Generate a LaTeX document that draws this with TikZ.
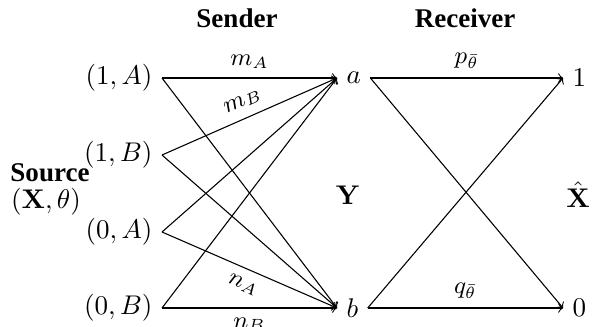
\documentclass[tikz,border=0pt]{standalone}
\usepackage[no-math]{fontspec}
\setmainfont{Liberation Serif}
\begin{document}
\begin{tikzpicture}[x=0.37pt,y=-0.37pt,
  src/.style={anchor=east},
  dst/.style={anchor=west},
  arr/.style={->},
  lab/.style={font=\small},
  head/.style={font=\bfseries}]
\useasboundingbox (0,0) rectangle (595,326);
\node[head] (sender) at (237,18) {Sender};
\node[head] (receiver) at (465,18) {Receiver};
\node[head] (source) at (50,173) {Source};
\node (xtheta) at (46,202) {$(\mathbf{X},\theta)$};
\node (Y) at (348,195) {$\mathbf{Y}$};
\node (Xh) at (578,195) {$\hat{\mathbf{X}}$};
\node[src] (1A) at (162,78) {$(1,A)$};
\node[src] (1B) at (162,155) {$(1,B)$};
\node[src] (0A) at (162,232) {$(0,A)$};
\node[src] (0B) at (162,308) {$(0,B)$};
\node[dst] (a) at (337,78) {$a$};
\node[dst] (b) at (337,308) {$b$};
\node[dst] (one) at (563,78) {$1$};
\node[dst] (zero) at (563,308) {$0$};
\draw[arr] (1A.east) -- node[lab,above] {$m_A$} (a.west);
\draw[arr] (1A.east) -- (b.west);
\draw[arr] (1B.east) -- node[lab,above,sloped] {$m_B$} (a.west);
\draw[arr] (1B.east) -- (b.west);
\draw[arr] (0A.east) -- (a.west);
\draw[arr] (0A.east) -- node[lab,below,sloped] {$n_A$} (b.west);
\draw[arr] (0B.east) -- (a.west);
\draw[arr] (0B.east) -- node[lab,below] {$n_B$} (b.west);
\draw[arr] (a.east) -- node[lab,above] {$p_{\bar\theta}$} (one.west);
\draw[arr] (a.east) -- (zero.west);
\draw[arr] (b.east) -- (one.west);
\draw[arr] (b.east) -- node[lab,above] {$q_{\bar\theta}$} (zero.west);
\end{tikzpicture}
\end{document}
